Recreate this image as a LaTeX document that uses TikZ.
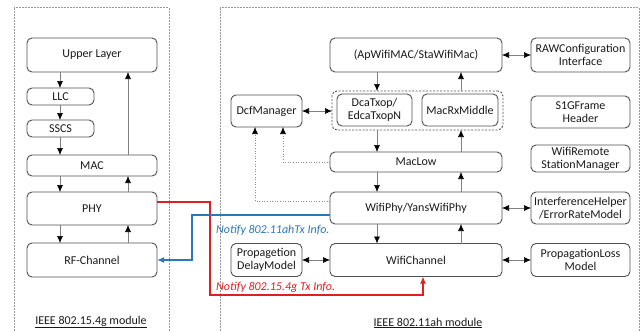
\documentclass[tikz,border=0pt]{standalone}
\usepackage{fontspec}
\setmainfont{Carlito}
\usetikzlibrary{arrows.meta}

\definecolor{boxline}{HTML}{505050}
\definecolor{linkgray}{HTML}{808080}
\definecolor{notifyred}{HTML}{E0201E}
\definecolor{notifyblue}{HTML}{2B78B8}

\tikzset{
  box/.style={draw=boxline, line width=0.9pt, rounded corners=5pt, align=center,
    inner sep=0pt, outer sep=0pt, text=black!90,
    font=\fontsize{12}{13}\selectfont},
  group/.style={draw=boxline, line width=0.9pt, rounded corners=5pt,
    dash pattern=on 2pt off 1.5pt, inner sep=0pt, outer sep=0pt},
  module/.style={draw=black!40, line width=0.6pt, dash pattern=on 2pt off 1pt},
  arr/.style={draw=linkgray, line width=0.6pt, -{Latex[length=7pt,width=6pt,black]}},
  darr/.style={draw=linkgray, line width=0.6pt,
    {Latex[length=7pt,width=6pt,black]}-{Latex[length=7pt,width=6pt,black]}},
  dotarr/.style={draw=black!45, line width=0.6pt, dotted,
    -{Latex[length=7pt,width=6pt,black]}},
  redarr/.style={draw=notifyred, line width=1.3pt, -{Latex[length=7pt,width=6pt]}},
  bluearr/.style={draw=notifyblue, line width=1.3pt, -{Latex[length=7pt,width=6pt]}},
  note/.style={font=\fontsize{12}{13}\selectfont\itshape, inner sep=0pt, anchor=west},
  modlabel/.style={font=\fontsize{12}{13}\selectfont, text=black!90, inner sep=0pt},
}

\begin{document}
\begin{tikzpicture}[x=1pt,y=-1pt]
\useasboundingbox (0,0) rectangle (641,330);

% module frames
\draw[module] (14,7.5) rectangle (169,345);
\draw[module] (220,7.5) rectangle (639,345);

% columns used by the vertical links
\coordinate (ld) at (60,0);
\coordinate (lu) at (128,0);
\coordinate (rd) at (377,0);
\coordinate (ru) at (461,0);
\coordinate (dA) at (283,0);
\coordinate (dB) at (255,0);
\coordinate (dBy) at (0,201);

% IEEE 802.15.4g stack
\node[box, minimum width=130pt, minimum height=34pt] (upper) at (92,55) {Upper Layer};
\node[box, minimum width=67pt, minimum height=17pt] (llc) at (60.5,96.5) {LLC};
\node[box, minimum width=67pt, minimum height=17pt] (sscs) at (60.5,128.5) {SSCS};
\node[box, minimum width=130pt, minimum height=21pt] (mac) at (92,165.5) {MAC};
\node[box, minimum width=130pt, minimum height=33pt] (phy) at (92,208.5) {PHY};
\node[box, minimum width=130pt, minimum height=34pt] (rf) at (92,260) {RF-Channel};
\node[modlabel] (lmod) at (91,322) {\underline{IEEE 802.15.4g module}};

% IEEE 802.11ah stack
\node[box, minimum width=172pt, minimum height=34pt] (apmac) at (416,55) {(ApWifiMAC/StaWifiMac)};
\node[box, minimum width=99pt, minimum height=34pt] (raw) at (580.5,55) {RAWConfiguration\\Interface};
\node[group, minimum width=171pt, minimum height=39pt] (grp) at (417.5,110.5) {};
\node[box, minimum width=75pt, minimum height=32pt] (dca) at (374.5,110) {DcaTxop/\\EdcaTxopN};
\node[box, minimum width=76pt, minimum height=32pt] (rxm) at (460,110) {MacRxMiddle};
\node[box, minimum width=71pt, minimum height=32pt] (dcf) at (266.5,111) {DcfManager};
\node[box, minimum width=99pt, minimum height=32pt] (s1g) at (580.5,112) {S1GFrame\\Header};
\node[box, minimum width=99pt, minimum height=27pt] (wrsm) at (580.5,158.5) {WifiRemote\\StationManager};
\node[box, minimum width=172pt, minimum height=20pt] (maclow) at (416,162) {MacLow};
\node[box, minimum width=172pt, minimum height=32pt] (wphy) at (416,208) {WifiPhy/YansWifiPhy};
\node[box, minimum width=99pt, minimum height=32pt] (ih) at (580.5,208) {InterferenceHelper\\/ErrorRateModel};
\node[box, minimum width=172pt, minimum height=33pt] (chan) at (416,260) {WifiChannel};
\node[box, minimum width=99pt, minimum height=33pt] (ploss) at (580.5,260) {PropagationLoss\\Model};
\node[box, minimum width=71pt, minimum height=33pt] (pdel) at (266.5,260) {Propagetion\\DelayModel};
\node[modlabel] (rmod) at (428,323) {\underline{IEEE 802.11ah module}};

% 802.15.4g links
\draw[arr] (upper.south -| ld) -- (llc.north -| ld);
\draw[arr] (llc.south -| ld) -- (sscs.north -| ld);
\draw[arr] (sscs.south -| ld) -- (mac.north -| ld);
\draw[arr] (mac.north -| lu) -- (upper.south -| lu);
\draw[arr] (mac.south -| ld) -- (phy.north -| ld);
\draw[arr] (phy.north -| lu) -- (mac.south -| lu);
\draw[arr] (phy.south -| ld) -- (rf.north -| ld);
\draw[arr] (rf.north -| lu) -- (phy.south -| lu);

% 802.11ah links
\draw[arr] (apmac.south -| rd) -- (grp.north -| rd);
\draw[arr] (grp.north -| ru) -- (apmac.south -| ru);
\draw[arr] (grp.south -| rd) -- (maclow.north -| rd);
\draw[arr] (maclow.north -| ru) -- (grp.south -| ru);
\draw[arr] (maclow.south -| rd) -- (wphy.north -| rd);
\draw[arr] (wphy.north -| ru) -- (maclow.south -| ru);
\draw[arr] (wphy.south -| rd) -- (chan.north -| rd);
\draw[arr] (chan.north -| ru) -- (wphy.south -| ru);
\draw[darr] (apmac.east) -- (raw.west);
\draw[darr] (dcf.east) -- (dcf.east -| grp.west);
\draw[darr] (wphy.east) -- (ih.west);
\draw[darr] (chan.east) -- (ploss.west);
\draw[darr] (pdel.east) -- (pdel.east -| chan.west);
\draw[dotarr] (maclow.west) -| (dcf.south -| dA);
\draw[dotarr] (wphy.west |- dBy) -| (dcf.south -| dB);

% cross-module notifications
\coordinate (r1) at (210,202);
\coordinate (r2) at (210,295);
\coordinate (r3) at (423,295);
\draw[redarr] (phy.east |- r1) -- (r1) -- (r2) -- (r3) -- (chan.south -| r3);
\coordinate (b1) at (192,215);
\coordinate (b2) at (192,260);
\draw[bluearr] (wphy.west |- b1) -- (b1) -- (b2) -- (rf.east |- b2);
\node[note, text=notifyblue] (nblue) at (216,230) {Notify 802.11ahTx Info.};
\node[note, text=notifyred] (nred) at (216,287) {Notify 802.15.4g Tx Info.};
\end{tikzpicture}
\end{document}
